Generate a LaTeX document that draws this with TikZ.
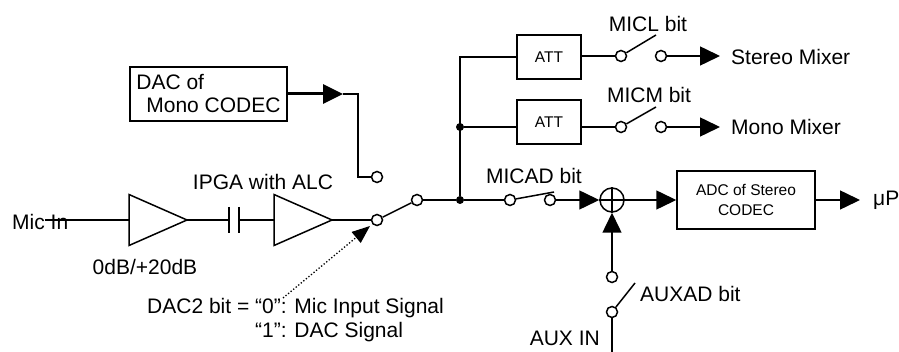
\documentclass[tikz,border=0pt]{standalone}
\usepackage{fontspec}
\setmainfont{Liberation Sans}
\usetikzlibrary{arrows.meta,shapes.geometric}
\begin{document}
\begin{tikzpicture}[x=1pt,y=-1pt,
  wire/.style={line width=1.5pt},
  boldwire/.style={line width=3pt},
  tipa/.style={-{Triangle[length=20pt,width=19pt]}},
  term/.style={circle,draw,line width=1.5pt,fill=white,minimum size=11pt,inner sep=0pt},
  jdot/.style={circle,fill=black,minimum size=8pt,inner sep=0pt},
  lbl/.style={font=\fontsize{21}{24}\selectfont,inner sep=2pt},
  smalltxt/.style={font=\fontsize{15.5}{20}\selectfont},
  blockbox/.style={draw,line width=1.5pt,inner sep=0pt},
  amp/.style={isosceles triangle,isosceles triangle stretches,draw,line width=1.5pt,
    minimum width=51pt,minimum height=58pt,inner sep=0pt,outer sep=0pt}
]
\useasboundingbox (0,0) rectangle (899,352);

% input chain
\node[lbl,anchor=west] (micin) at (10,222) {Mic In};
\coordinate (micst) at (45,220);
\node[amp,anchor=apex] (amp1) at (187,220) {};
\node[inner sep=0pt,outer sep=0pt,minimum width=10pt,minimum height=26pt] (cap) at (234,220) {};
\draw[wire] (cap.north west) -- (cap.south west);
\draw[wire] (cap.north east) -- (cap.south east);
\node[amp,anchor=apex] (amp2) at (332,220) {};
\draw[wire] (micst) -- (amp1.west);
\draw[wire] (amp1.apex) -- (cap.west);
\draw[wire] (cap.east) -- (amp2.west);
\node[lbl] (ipga) at (263,182) {IPGA with ALC};
\node[lbl] (gain) at (145,267) {0dB/+20dB};

% DAC of mono codec
\node[blockbox,lbl,inner sep=0pt,minimum width=157pt,minimum height=54pt,align=left,
  font=\fontsize{21}{23}\selectfont] (dac) at (208.5,94) {DAC of\\\hspace*{10pt}Mono CODEC};
\coordinate (daca) at (343,94);
\coordinate (dacbend) at (358,94);
\draw[boldwire,tipa] (dac.east) -- (daca);

% input selector switch
\node[term] (s1dac) at (377,177) {};
\node[term] (s1mic) at (377,220) {};
\node[term] (s1com) at (417,200) {};
\draw[wire] (daca) -- (dacbend) |- (s1dac);
\draw[wire] (amp2.apex) -- (s1mic);
\draw[wire] (s1mic) -- (s1com);

% junctions
\node[jdot] (j1) at (460,200) {};
\node[jdot] (j2) at (460,127) {};

% ATT branches
\node[blockbox,smalltxt,minimum width=64pt,minimum height=44pt] (att1) at (549,57) {ATT};
\node[blockbox,smalltxt,minimum width=64pt,minimum height=44pt] (att2) at (549,122) {ATT};
\draw[wire] (j1) |- (att1.west);
\draw[wire] (j2) -- (j2 -| att2.west);

\node[term] (ml1) at (621,56) {};
\node[term] (ml2) at (661,56) {};
\coordinate (mlarm) at (656,35);
\draw[wire] (att1.east |- ml1) -- (ml1);
\draw[wire] (ml1) -- (mlarm);
\node[lbl,anchor=west] (stereo) at (729,57) {Stereo Mixer};
\draw[wire,tipa,shorten >=9pt] (ml2) -- (stereo.west |- ml2);
\node[lbl] (micl) at (648,24) {MICL bit};

\node[term] (mm1) at (621,127) {};
\node[term] (mm2) at (661,127) {};
\coordinate (mmarm) at (656,107);
\draw[wire] (j2 -| att2.east) -- (mm1);
\draw[wire] (mm1) -- (mmarm);
\node[lbl,anchor=west] (mono) at (729,127) {Mono Mixer};
\draw[wire,tipa,shorten >=9pt] (mm2) -- (mono.west |- mm2);
\node[lbl] (micm) at (649,95) {MICM bit};

% MICAD path
\node[term] (mad1) at (510,200) {};
\node[term] (mad2) at (550,200) {};
\coordinate (madarm) at (554,192);
\draw[wire] (s1com) -- (j1) -- (mad1);
\draw[wire] (mad1) -- (madarm);
\node[lbl] (micad) at (534,176) {MICAD bit};

\node[circle,draw,line width=1.5pt,minimum size=24pt,inner sep=0pt] (sum) at (612,200) {};
\draw[wire] (sum.north) -- (sum.south);
\draw[wire] (sum.west) -- (sum.east);
\draw[wire,tipa] (mad2) -- (sum);

\node[blockbox,smalltxt,minimum width=138pt,minimum height=58pt,align=center] (adc) at (746,200) {ADC of Stereo\\CODEC};
\draw[wire,tipa] (sum) -- (adc);
\node[lbl,anchor=west] (mup) at (871,200) {μP};
\draw[wire,tipa,shorten >=11pt] (adc.east) -- (mup.west);

% AUX input
\node[term] (aux1) at (612,277) {};
\node[term] (aux2) at (612,312) {};
\coordinate (auxarm) at (635,283);
\coordinate (auxbot) at (612,352);
\draw[wire,tipa] (aux1) -- (sum);
\draw[wire] (aux2) -- (auxarm);
\draw[wire] (auxbot) -- (aux2);
\node[lbl,anchor=west] (auxad) at (638,294) {AUXAD bit};
\node[lbl,anchor=east] (auxin) at (602,338) {AUX IN};

% DAC2 note
\node[lbl,anchor=west,align=left] (dac2) at (145,320) {DAC2 bit = “0”: Mic Input Signal\\\phantom{DAC2 bit = }“1”: DAC Signal};
\coordinate (dst) at (283,298);
\coordinate (dtip) at (370,226);
\draw[dotted,line width=1.3pt,-{Triangle[length=18pt,width=14pt]}] (dst) -- (dtip);
\end{tikzpicture}
\end{document}
